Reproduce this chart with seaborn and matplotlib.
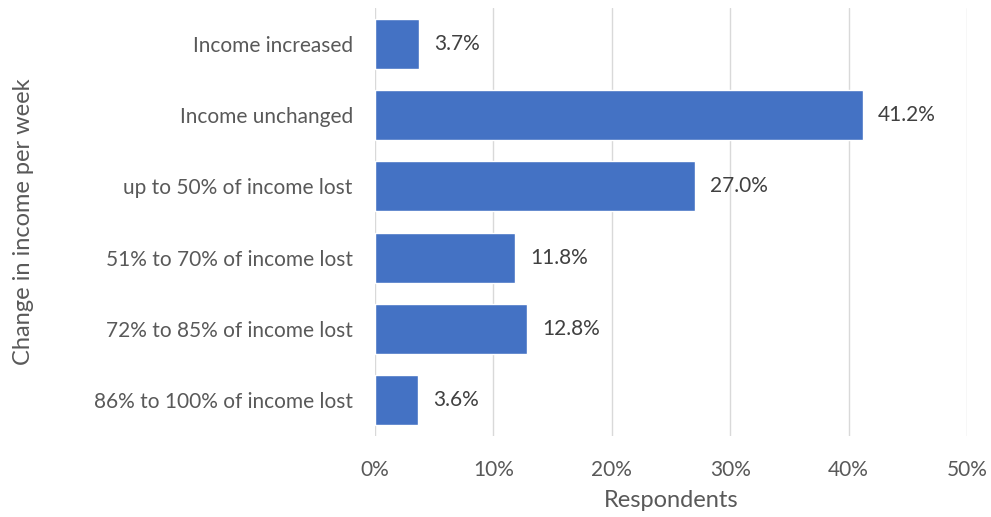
import matplotlib
matplotlib.use('Agg')
import matplotlib.pyplot as plt
import seaborn as sns
import pandas as pd
from matplotlib.ticker import PercentFormatter

# Chart data
categories = ['Income increased', 'Income unchanged', 'up to 50% of income lost',
              '51% to 70% of income lost', '72% to 85% of income lost',
              '86% to 100% of income lost']
shares = [3.7, 41.2, 27.0, 11.8, 12.8, 3.6]

df = pd.DataFrame({'category': categories, 'share': shares})

sns.set_style('white')
plt.rcParams['font.family'] = ['Lato', 'DejaVu Sans']

fig = plt.figure(figsize=(9.91, 5.17), dpi=100)
ax = fig.add_axes([0.3784, 0.1567, 0.5974, 0.828])

sns.barplot(data=df, x='share', y='category', orient='h', color='#4472C4',
            width=0.7, saturation=1, ax=ax)

# value labels
ax.bar_label(ax.containers[0], labels=[f'{v:.1f}%' for v in shares],
             padding=11, fontsize=15, color='#404040')

ax.set_xlim(0, 50)
ax.set_xticks(range(0, 51, 10))
ax.xaxis.set_major_formatter(PercentFormatter(decimals=0))
ax.grid(axis='x', color='#D9D9D9', linewidth=1)
ax.set_axisbelow(True)
sns.despine(ax=ax, left=True, bottom=True)
ax.tick_params(axis='both', length=0, labelsize=15, labelcolor='#595959')
ax.tick_params(axis='x', pad=17)
ax.tick_params(axis='y', pad=16)

ax.set_xlabel('Respondents', fontsize=17, color='#595959', va='center')
ax.set_ylabel('Change in income per week', fontsize=17, color='#595959', va='center')
ax.xaxis.set_label_coords(0.5, -0.15)
ax.yaxis.set_label_coords(-0.593, 0.5)

fig.savefig('out.png', dpi=100)
